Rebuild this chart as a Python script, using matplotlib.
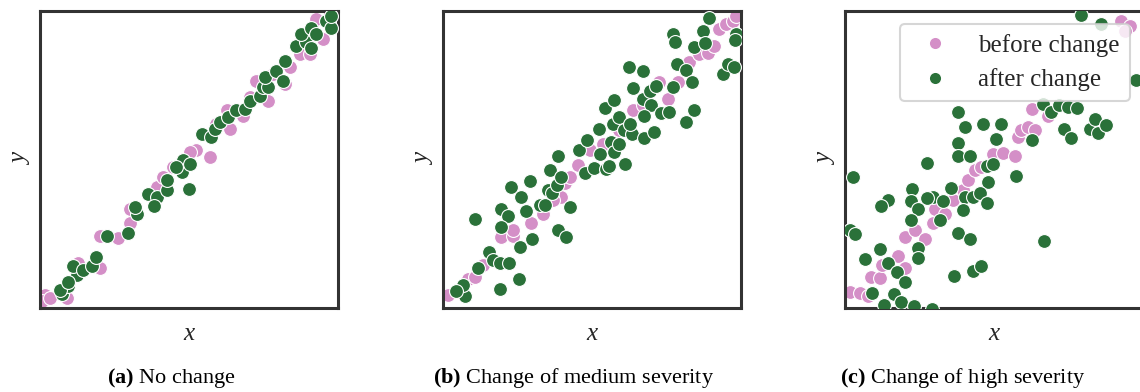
import matplotlib
matplotlib.use("Agg")
import matplotlib.pyplot as plt
from matplotlib.lines import Line2D

plt.rcParams['font.family'] = ['Liberation Serif', 'DejaVu Serif']
plt.rcParams['mathtext.fontset'] = 'custom'
plt.rcParams['mathtext.rm'] = 'Liberation Serif'
plt.rcParams['mathtext.bf'] = 'Liberation Serif:bold'

pink = '#d48fc7'
green = '#2a7139'

# (a) no change
a_before_x = [1.7, 0.6, 3.4, 8.9, 12.8, 20.1, 20.1, 26.3, 30.2, 30.2, 39.1, 44.7, 52.5, 57.0, 62.6,
              68.2, 63.7, 72.6, 76.5, 82.1, 83.8, 87.2, 95.0, 92.7, 90.5, 41.3, 50.3, 59.2, 70.4, 78.2, 97.2]
a_before_y = [4.5, 2.2, 3.4, 3.4, 15.1, 13.4, 24.2, 23.5, 28.5, 33.5, 40.8, 47.5, 53.1, 50.8, 66.5,
              64.8, 60.3, 76.5, 69.8, 75.4, 81.0, 85.5, 90.5, 97.2, 85.5, 44.1, 52.5, 62.0, 70.9, 78.8, 98.9]
a_after_x = [7.5, 9.5, 6.7, 12.3, 11.2, 14.5, 17.3, 18.7, 22.6, 29.4, 32.4, 31.8, 36.3, 39.1, 38.2,
             42.5, 42.5, 47.5, 48.0, 50.3, 50.1, 54.2, 57.5, 58.7, 60.3, 63.1, 65.9, 68.7, 70.4, 73.7,
             74.9, 76.5, 75.4, 79.3, 81.6, 82.1, 86.0, 89.4, 91.1, 87.7, 91.1, 92.7, 96.1, 97.8, 97.8,
             9.5, 45.8]
a_after_y = [4.7, 7.3, 6.1, 11.2, 14.0, 12.8, 14.0, 17.3, 24.2, 25.4, 31.8, 34.1, 38.5, 37.4, 34.3,
             39.7, 43.0, 45.8, 49.7, 48.6, 40.2, 58.7, 57.5, 60.3, 62.6, 64.2, 66.5, 67.0, 69.8, 71.5,
             74.3, 74.3, 77.7, 79.9, 76.5, 83.2, 88.3, 89.4, 87.7, 92.2, 94.4, 92.2, 96.6, 94.4, 98.3,
             8.9, 47.5]

# (b) change of medium severity
b_before_x = [1.7, 8.4, 10.6, 13.4, 19.6, 23.5, 23.5, 29.6, 33.5, 39.7, 40.8, 42.5, 45.3, 49.2, 53.6,
              63.7, 67.0, 72.6, 75.4, 78.8, 82.7, 86.0, 88.8, 91.1, 92.7, 95.0, 97.2, 98.3, 59.2, 68.2, 36.9]
b_before_y = [4.5, 9.7, 10.6, 14.5, 24.0, 24.2, 26.3, 28.5, 31.8, 37.4, 42.1, 44.1, 48.0, 53.1, 55.3,
              66.5, 68.2, 76.0, 70.4, 76.0, 82.7, 85.5, 86.0, 88.3, 93.9, 95.5, 96.6, 98.3, 59.8, 70.9, 36.3]
b_after_x = [7.5, 6.7, 4.5, 11.7, 15.6, 16.8, 19.0, 22.3, 19.0, 25.5, 10.9, 19.6, 21.8, 19.6, 22.9,
             26.3, 29.3, 27.7, 26.0, 29.9, 32.4, 34.1, 35.8, 35.2, 36.6, 38.2, 39.7, 38.5, 42.7, 38.5,
             41.3, 45.8, 48.4, 47.5, 50.6, 52.8, 54.7, 55.6, 52.5, 54.4, 57.3, 56.4, 57.5, 59.2, 61.2,
             57.0, 59.2, 60.9, 63.5, 62.6, 62.3, 67.0, 63.7, 67.0, 69.3, 71.5, 69.8, 67.6, 67.3, 70.9,
             73.2, 75.9, 77.3, 78.5, 77.1, 77.7, 81.6, 83.5, 81.6, 84.1, 84.1, 87.2, 88.0, 89.1, 93.9,
             95.5, 97.8, 98.3, 98.0]
b_after_y = [3.9, 7.8, 5.6, 13.4, 19.0, 16.2, 15.1, 15.1, 6.4, 9.7, 29.8, 33.5, 30.9, 27.4, 40.8,
             37.4, 42.7, 32.7, 20.4, 23.1, 34.6, 34.6, 46.4, 39.7, 38.8, 41.3, 44.1, 51.1, 33.9, 26.3,
             23.8, 53.3, 56.4, 45.5, 47.2, 52.0, 46.9, 47.8, 60.3, 67.4, 70.2, 55.9, 52.5, 55.3, 48.6,
             62.0, 64.2, 59.8, 58.7, 62.0, 81.0, 79.7, 74.0, 70.4, 72.9, 74.9, 68.5, 64.6, 57.3, 59.2,
             65.6, 65.9, 74.5, 82.1, 92.2, 89.7, 80.1, 76.0, 62.6, 66.7, 88.0, 93.3, 89.1, 97.5, 78.8,
             82.1, 81.0, 92.2, 90.2]

# (c) change of high severity
c_before_x = [1.7, 5.0, 7.8, 8.7, 11.7, 12.3, 17.9, 20.1, 20.1, 23.5, 26.8, 29.6, 30.2, 33.5, 36.3,
              39.7, 41.3, 43.6, 45.8, 49.7, 53.1, 57.0, 57.9, 59.2, 61.5, 62.6, 63.7, 68.2, 92.7, 95.5, 93.9]
c_before_y = [5.3, 5.0, 3.9, 10.4, 10.1, 14.5, 17.5, 13.4, 24.0, 26.3, 23.1, 28.5, 33.2, 31.8, 36.3,
              39.7, 43.0, 46.4, 47.5, 52.0, 52.2, 51.1, 57.5, 59.8, 61.1, 67.0, 59.8, 64.8, 96.6, 95.0, 93.3]
c_after_x = [79.3, 86.0, 97.8, 37.8, 40.2, 46.4, 52.5, 50.8, 37.8, 38.0, 41.9, 27.4, 2.8, 47.5, 49.7,
             48.0, 57.5, 22.6, 29.6, 27.4, 22.1, 24.6, 14.5, 12.1, 35.5, 33.0, 40.2, 43.0, 45.3, 47.5,
             39.7, 31.8, 22.1, 1.7, 3.4, 37.8, 41.9, 66.8, 24.6, 24.6, 11.7, 6.7, 14.5, 17.3, 20.1,
             36.6, 42.8, 45.8, 8.9, 16.5, 13.2, 18.8, 23.2, 29.1, 62.6, 66.5, 69.0, 71.7, 74.9, 77.9,
             73.5, 75.7, 82.1, 83.8, 84.9, 87.5]
c_after_y = [98.7, 95.5, 76.9, 65.9, 61.1, 62.0, 61.8, 57.0, 55.5, 51.1, 51.1, 48.8, 44.1, 47.8, 48.6,
             42.5, 44.4, 39.9, 37.4, 36.9, 36.0, 33.5, 36.3, 34.3, 40.3, 36.0, 37.4, 37.4, 38.8, 35.5,
             32.9, 29.6, 29.6, 26.3, 24.8, 25.4, 23.1, 22.6, 20.1, 16.8, 19.8, 16.4, 15.1, 12.0, 8.6,
             10.9, 12.3, 14.0, 5.0, 4.8, 1.1, 1.9, 0.8, -0.3, 56.6, 68.7, 65.9, 68.5, 67.8, 67.4,
             60.3, 57.2, 60.3, 63.5, 58.9, 61.7]

panels = [
    (a_before_x, a_before_y, a_after_x, a_after_y, r"$\mathbf{(a)}$ No change"),
    (b_before_x, b_before_y, b_after_x, b_after_y, r"$\mathbf{(b)}$ Change of medium severity"),
    (c_before_x, c_before_y, c_after_x, c_after_y, r"$\mathbf{(c)}$ Change of high severity"),
]

W, H = 1140, 392
fig = plt.figure(figsize=(W / 100, H / 100), dpi=100)
lefts = [40, 443, 845]
caption_x = [171, 574, 963]
axes = []
for i, (bx, by, gx, gy, caption) in enumerate(panels):
    ax = fig.add_axes([lefts[i] / W, 84 / H, 298 / W, 297 / H])
    ax.scatter(bx, by, s=100, c=pink, edgecolors='white', linewidths=0.8, zorder=2)
    ax.scatter(gx, gy, s=100, c=green, edgecolors='white', linewidths=0.8, zorder=3)
    ax.set_xlim(0, 100)
    ax.set_ylim(0, 100)
    ax.set_xticks([])
    ax.set_yticks([])
    for sp in ax.spines.values():
        sp.set_linewidth(2.2)
        sp.set_color('#333333')
    ax.set_xlabel("x", fontsize=18, style='italic', color='#262626', labelpad=11)
    ax.set_ylabel("y", fontsize=18, style='italic', color='#262626', labelpad=6)
    fig.text(caption_x[i] / W, 1 - 378 / H, caption, fontsize=16, ha='center', va='center', color='black')
    axes.append(ax)

handles = [
    Line2D([], [], marker='o', linestyle='', markersize=9, markerfacecolor=pink, markeredgecolor='white'),
    Line2D([], [], marker='o', linestyle='', markersize=9, markerfacecolor=green, markeredgecolor='white'),
]
leg = axes[2].legend(handles, ["before change", "after change"], loc='upper right',
                     bbox_to_anchor=(0.956, 0.956), borderaxespad=0, fontsize=18,
                     frameon=True, fancybox=True, handlelength=2.0, handletextpad=0.75,
                     labelspacing=0.45, borderpad=0.4)
leg.get_frame().set_edgecolor('#cccccc')
leg.get_frame().set_linewidth(1.5)
for t in leg.get_texts():
    t.set_color('#262626')

fig.savefig("out.png", dpi=100)
